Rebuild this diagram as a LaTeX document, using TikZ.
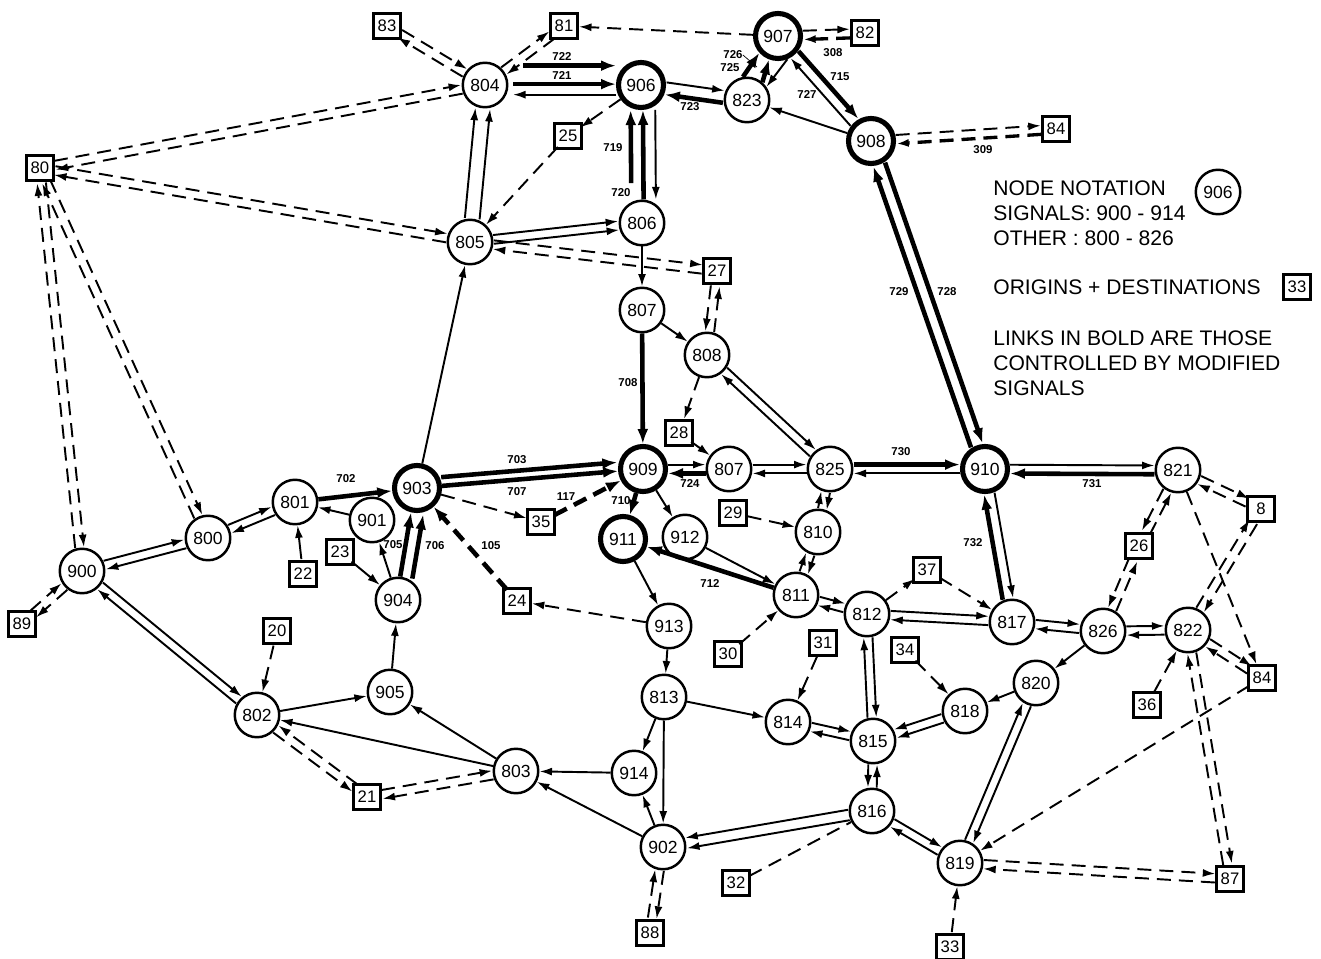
\documentclass[tikz,border=0pt]{standalone}
\usepackage{fontspec}
\setmainfont{Liberation Sans}
\usetikzlibrary{calc,arrows.meta}
\newcommand\Cn[4]{\node[nd] (#1) at (#2,#3) {#4};\expandafter\gdef\csname rad-#1\endcsname{0.47cm}}
\newcommand\Sg[4]{\node[sg] (#1) at (#2,#3) {#4};\expandafter\gdef\csname rad-#1\endcsname{0.5cm}}
\newcommand\Sq[4]{\node[od] (#1) at (#2,#3) {#4};\expandafter\gdef\csname rad-#1\endcsname{0.3cm}}
\newcommand\lk[4][]{%
  \edef\lkA{\csname rad-#2\endcsname}\edef\lkB{\csname rad-#3\endcsname}%
  \draw[lkk,shorten <=\lkA,shorten >=\lkB,#1] ($(#2)!#4!90:(#3)$) -- ($(#3)!#4!-90:(#2)$);}
\tikzset{
  nd/.style={circle,draw,line width=1.4pt,minimum size=0.89cm,inner sep=0pt,font=\fontsize{10}{10}\selectfont},
  sg/.style={nd,line width=2.9pt,minimum size=0.9cm},
  od/.style={draw,line width=1.35pt,minimum width=0.54cm,minimum height=0.5cm,inner sep=0pt,font=\fontsize{9.5}{9.5}\selectfont},
  lkk/.style={line width=1.1pt,-{Latex[length=0.25cm,width=0.16cm]}},
  bd/.style={line width=2.6pt,-{Latex[length=0.3cm,width=0.22cm]}},
  ds/.style={dash pattern=on 0.28cm off 0.16cm},
  lb/.style={font=\fontsize{6.5}{6.5}\selectfont\bfseries,inner sep=0pt},
  lg/.style={font=\fontsize{12}{12}\selectfont,inner sep=0pt,anchor=west},
}
\begin{document}
\begin{tikzpicture}[x=0.02cm,y=-0.02cm]
\useasboundingbox (0,0) rectangle (1321,959);
% circles
\Cn{n804}{485}{85}{804}
\Cn{n823}{747}{100}{823}
\Cn{n805}{470}{242}{805}
\Cn{n806}{642}{223}{806}
\Cn{n807a}{642}{310}{807}
\Cn{n808}{707}{355}{808}
\Cn{n807b}{729}{469}{807}
\Cn{n825}{830}{469}{825}
\Cn{n821}{1178}{470}{821}
\Cn{n801}{295}{502}{801}
\Cn{n901}{372}{520}{901}
\Cn{n800}{208}{538}{800}
\Cn{n900}{82}{571}{900}
\Cn{n904}{398}{600}{904}
\Cn{n912}{685}{537}{912}
\Cn{n810}{818}{532}{810}
\Cn{n811}{796}{595}{811}
\Cn{n812}{867}{614}{812}
\Cn{n817}{1012}{622}{817}
\Cn{n826}{1103}{631}{826}
\Cn{n822}{1188}{630}{822}
\Cn{n913}{669}{626}{913}
\Cn{n905}{390}{692}{905}
\Cn{n802}{257}{715}{802}
\Cn{n813}{664}{697}{813}
\Cn{n814}{788}{722}{814}
\Cn{n815}{873}{741}{815}
\Cn{n818}{965}{711}{818}
\Cn{n820}{1036}{683}{820}
\Cn{n803}{516}{771}{803}
\Cn{n914}{634}{773}{914}
\Cn{n816}{872}{811}{816}
\Cn{n902}{663}{847}{902}
\Cn{n819}{960}{863}{819}
% signals
\Sg{n906}{641}{85}{906}
\Sg{n907}{778}{36}{907}
\Sg{n908}{871}{141}{908}
\Sg{n903}{417}{488}{903}
\Sg{n909}{643}{469}{909}
\Sg{n910}{985}{469}{910}
\Sg{n911}{623}{539}{911}
% squares
\Sq{s83}{387}{26}{83}
\Sq{s81}{564}{26}{81}
\Sq{s82}{865}{33}{82}
\Sq{s84a}{1056}{129}{84}
\Sq{s80}{40}{168}{80}
\Sq{s25}{568}{136}{25}
\Sq{s27}{717}{271}{27}
\Sq{s28}{679}{433}{28}
\Sq{s35}{541}{522}{35}
\Sq{s29}{733}{513}{29}
\Sq{s8}{1261}{509}{8}
\Sq{s26}{1139}{546}{26}
\Sq{s37}{927}{570}{37}
\Sq{s22}{303}{574}{22}
\Sq{s23}{340}{552}{23}
\Sq{s24}{517}{601}{24}
\Sq{s89}{22}{624}{89}
\Sq{s20}{277}{631}{20}
\Sq{s34}{905}{650}{34}
\Sq{s31}{823}{643}{31}
\Sq{s30}{728}{654}{30}
\Sq{s84b}{1262}{678}{84}
\Sq{s36}{1147}{705}{36}
\Sq{s21}{367}{797}{21}
\Sq{s32}{736}{883}{32}
\Sq{s87}{1230}{879}{87}
\Sq{s88}{650}{933}{88}
\Sq{s33}{950}{947}{33}
% ---- links: top
\lk[ds]{n804}{s83}{2.5pt}
\lk[ds]{s83}{n804}{2.5pt}
\lk[ds]{n804}{s81}{2.5pt}
\lk[ds]{s81}{n804}{2.5pt}
\lk[ds]{n907}{s81}{0pt}
\lk[ds]{n907}{s82}{2.5pt}
\lk[ds,line width=1.9pt]{s82}{n907}{2.5pt}
\lk[ds]{s80}{n804}{2.5pt}
\lk[ds]{n804}{s80}{2.5pt}
\lk[ds]{s80}{n805}{2.5pt}
\lk[ds]{n805}{s80}{2.5pt}
\lk[ds]{n900}{s80}{2.5pt}
\lk[ds]{s80}{n900}{2.5pt}
\lk[ds]{n800}{s80}{2.5pt}
\lk[ds]{s80}{n800}{2.5pt}
\lk[bd,shorten <=0.76cm]{n804}{n906}{11pt}
\lk[bd,shorten <=0.56cm]{n804}{n906}{0.5pt}
\lk[shorten >=0.56cm]{n906}{n804}{5.5pt}
\lk{n906}{n823}{3.5pt}
\lk[bd]{n823}{n906}{3.5pt}
\lk[ds]{n906}{s25}{0pt}
\lk[ds]{s25}{n805}{0pt}
\lk[bd,shorten <=0.8cm]{n806}{n906}{6pt}
\lk[bd]{n806}{n906}{-1pt}
\lk{n906}{n806}{8pt}
\draw[bd] (n823.100) -- (n907.222);
\draw[bd] (n823.49) -- (n907.249);
\draw[lkk] (n907.292) -- (n823.34);
\lk[bd]{n907}{n908}{3pt}
\lk{n908}{n907}{3pt}
\lk{n908}{n823}{0pt}
\lk[ds]{n908}{s84a}{2.5pt}
\lk[ds,line width=1.9pt]{s84a}{n908}{2.5pt}
\lk{n805}{n804}{4.2pt}
\lk{n805}{n804}{-4.2pt}
\lk{n805}{n806}{2.5pt}
\lk{n805}{n806}{-2.5pt}
\lk[ds]{n805}{s27}{2.5pt}
\lk[ds]{s27}{n805}{2.5pt}
\lk{n903}{n805}{0pt}
\lk{n806}{n807a}{0pt}
\lk{n807a}{n808}{0pt}
\lk[ds]{s27}{n808}{-2.5pt}
\lk[ds]{n808}{s27}{-2.5pt}
\lk[bd]{n807a}{n909}{0pt}
\lk[ds]{n808}{s28}{0pt}
\lk{s28}{n807b}{0pt}
\lk{n808}{n825}{2.5pt}
\lk{n825}{n808}{2.5pt}
\lk{n909}{n807b}{2.5pt}
\lk[bd]{n807b}{n909}{2.5pt}
\lk{n807b}{n825}{2.5pt}
\lk{n825}{n807b}{2.5pt}
\lk[bd]{n825}{n910}{2.5pt}
\lk{n910}{n825}{2.5pt}
\lk{n910}{n821}{2.5pt}
\lk[bd]{n821}{n910}{2.5pt}
\lk[bd]{n910}{n908}{3.5pt}
\lk[bd]{n908}{n910}{3.5pt}
% ---- left
\lk{n900}{n800}{2.5pt}
\lk{n800}{n900}{2.5pt}
\lk{n800}{n801}{2.5pt}
\lk{n801}{n800}{2.5pt}
\lk[bd]{n801}{n903}{0pt}
\lk{n901}{n801}{0pt}
\lk{s22}{n801}{0pt}
\lk{s23}{n904}{0pt}
\lk{n904}{n901}{0pt}
\lk[bd]{n904}{n903}{1pt}
\lk[bd]{n904}{n903}{-6pt}
\lk[ds]{s89}{n900}{2.5pt}
\lk[ds]{n900}{s89}{2.5pt}
\lk{n900}{n802}{2.5pt}
\lk{n802}{n900}{2.5pt}
\lk[ds]{s20}{n802}{0pt}
\lk{n802}{n905}{0pt}
\lk{n905}{n904}{0pt}
\lk{n803}{n802}{0pt}
\lk{n803}{n905}{0pt}
\lk[ds]{s21}{n802}{-2.5pt}
\lk[ds]{n802}{s21}{-2.5pt}
\lk[ds]{s21}{n803}{2.5pt}
\lk[ds]{n803}{s21}{2.5pt}
\lk{n914}{n803}{0pt}
\lk{n902}{n803}{0pt}
\lk{n813}{n914}{0pt}
\lk{n813}{n902}{0pt}
\lk{n902}{n914}{0pt}
\lk{n816}{n902}{3pt}
\lk{n816}{n902}{-3pt}
\lk[ds,-]{s32}{n816}{0pt}
\lk[ds]{s88}{n902}{2.5pt}
\lk[ds]{n902}{s88}{2.5pt}
% ---- centre
\lk[bd]{n903}{n909}{5pt}
\lk[bd]{n903}{n909}{0pt}
\lk[ds]{n903}{s35}{0pt}
\lk[bd,ds]{s35}{n909}{0pt}
\lk[bd,ds]{s24}{n903}{0pt}
\lk[ds]{n913}{s24}{0pt}
\lk[bd]{n909}{n911}{0pt}
\lk{n909}{n912}{0pt}
\lk{n911}{n913}{0pt}
\lk{n912}{n811}{0pt}
\lk[bd]{n811}{n911}{0pt}
\lk[ds]{s29}{n810}{0pt}
\lk{n810}{n825}{2.5pt}
\lk{n825}{n810}{2.5pt}
\lk{n811}{n810}{2.5pt}
\lk{n810}{n811}{2.5pt}
\lk{n811}{n812}{2.5pt}
\lk{n812}{n811}{2.5pt}
\lk[ds]{s30}{n811}{0pt}
\lk{n913}{n813}{0pt}
\lk{n813}{n814}{0pt}
\lk[ds]{s31}{n814}{0pt}
\lk{n814}{n815}{2.5pt}
\lk{n815}{n814}{2.5pt}
\lk{n815}{n812}{2.5pt}
\lk{n812}{n815}{2.5pt}
\lk[ds]{n812}{s37}{0pt}
\lk[ds]{s37}{n817}{0pt}
\lk{n812}{n817}{2.5pt}
\lk{n817}{n812}{2.5pt}
\lk[bd]{n817}{n910}{3pt}
\lk{n910}{n817}{3pt}
\lk{n817}{n826}{2.5pt}
\lk{n826}{n817}{2.5pt}
\lk{n826}{n822}{2.5pt}
\lk{n822}{n826}{2.5pt}
\lk{n826}{n820}{0pt}
\lk{n820}{n818}{0pt}
\lk[ds]{s34}{n818}{0pt}
\lk{n818}{n815}{2.5pt}
\lk{n818}{n815}{-2.5pt}
\lk{n815}{n816}{-2.5pt}
\lk{n816}{n815}{-2.5pt}
\lk{n816}{n819}{2.5pt}
\lk{n819}{n816}{2.5pt}
\lk{n819}{n820}{2.5pt}
\lk{n820}{n819}{2.5pt}
\lk[ds]{s84b}{n819}{0pt}
\lk[ds]{n819}{s87}{2.5pt}
\lk[ds]{s87}{n819}{2.5pt}
\lk[ds]{s33}{n819}{0pt}
\lk[ds]{s87}{n822}{2.5pt}
\lk[ds]{n822}{s87}{2.5pt}
\lk[ds]{s36}{n822}{0pt}
\lk[ds]{n822}{s84b}{2.5pt}
\lk[ds]{s84b}{n822}{2.5pt}
\lk[ds]{n821}{s84b}{0pt}
\lk[ds]{n821}{s8}{2.5pt}
\lk[ds]{s8}{n821}{2.5pt}
\lk[ds]{n822}{s8}{2.5pt}
\lk[ds]{s8}{n822}{2.5pt}
\lk[ds]{n821}{s26}{-2.5pt}
\lk[ds]{s26}{n821}{-2.5pt}
\lk[ds]{s26}{n826}{-2.5pt}
\lk[ds]{n826}{s26}{-2.5pt}
% ---- link labels
\node[lb] (l722) at (562,57) {722};
\node[lb] (l721) at (562,76) {721};
\node[lb] (l723) at (690,107) {723};
\node[lb] (l726) at (733,55) {726};
\node[lb] (l725) at (730,68) {725};
\coordinate (c726) at (757,67);
\draw[line width=0.4pt] (l726.east) -- (c726);
\node[lb] (l308) at (833,53) {308};
\node[lb] (l715) at (840,77) {715};
\node[lb] (l727) at (807,95) {727};
\node[lb] (l719) at (613,148) {719};
\node[lb] (l720) at (621,193) {720};
\node[lb] (l309) at (983,150) {309};
\node[lb] (l729) at (899,292) {729};
\node[lb] (l728) at (947,292) {728};
\node[lb] (l708) at (628,383) {708};
\node[lb] (l703) at (517,460) {703};
\node[lb] (l707) at (517,492) {707};
\node[lb] (l724) at (690,484) {724};
\node[lb] (l117) at (566,497) {117};
\node[lb] (l710) at (621,501) {710};
\node[lb] (l702) at (346,479) {702};
\node[lb] (l705) at (393,545) {705};
\node[lb] (l706) at (435,546) {706};
\node[lb] (l105) at (491,546) {105};
\node[lb] (l730) at (901,452) {730};
\node[lb] (l731) at (1092,484) {731};
\node[lb] (l732) at (973,543) {732};
\node[lb] (l712) at (710,584) {712};
% ---- legend
\node[lg] (t1) at (993,188) {NODE NOTATION};
\node[lg] (t2) at (993,213) {SIGNALS: 900 - 914};
\node[lg] (t3) at (993,238) {OTHER : 800 - 826};
\node[lg] (t4) at (993,287) {ORIGINS + DESTINATIONS};
\node[lg] (t5) at (993,338) {LINKS IN BOLD ARE THOSE};
\node[lg] (t6) at (993,363) {CONTROLLED BY MODIFIED};
\node[lg] (t7) at (993,388) {SIGNALS};
\node[nd] (leg906) at (1218,192) {906};
\node[od] (leg33) at (1297,287) {33};
\end{tikzpicture}
\end{document}
